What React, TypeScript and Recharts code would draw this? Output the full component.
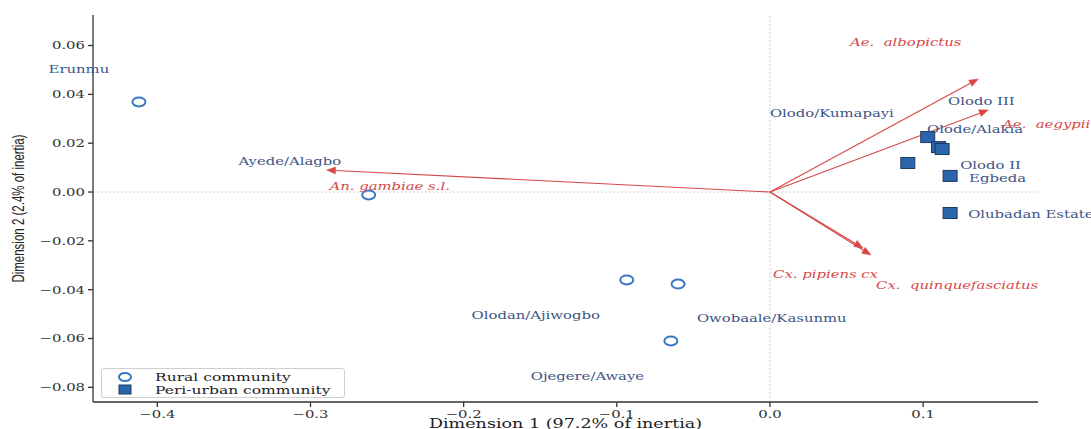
import React from "react";
import { ScatterChart, Scatter, XAxis, YAxis, ReferenceLine, Legend } from "recharts";

// the source figure is stretched sideways, so text gets a horizontal scale
const STRETCH = 1.35;
const SERIF = '"DejaVu Serif", serif';
const BLUE_TEXT = "#3d5585";
const RED = "#d64848";

const ruralPoints = [
  { x: -0.412, y: 0.0369 },
  { x: -0.262, y: -0.0012 },
  { x: -0.0935, y: -0.036 },
  { x: -0.06, y: -0.0377 },
  { x: -0.0647, y: -0.061 },
];

const periUrbanPoints = [
  { x: 0.103, y: 0.0225 },
  { x: 0.11, y: 0.0184 },
  { x: 0.1124, y: 0.0176 },
  { x: 0.09, y: 0.0119 },
  { x: 0.1176, y: 0.0066 },
  { x: 0.1176, y: -0.0086 },
];

const communityLabels = [
  { name: "Erunmu", x: -0.4314, y: 0.0504, anchor: "end" },
  { name: "Ayede/Alagbo", x: -0.347, y: 0.0127, anchor: "start" },
  { name: "Olodo/Kumapayi", x: 0.0, y: 0.0324, anchor: "start" },
  { name: "Olodo III", x: 0.1163, y: 0.0373, anchor: "start" },
  { name: "Olode/Alakia", x: 0.1026, y: 0.0258, anchor: "start" },
  { name: "Olodo II", x: 0.1242, y: 0.0111, anchor: "start" },
  { name: "Egbeda", x: 0.13, y: 0.0057, anchor: "start" },
  { name: "Olubadan Estate", x: 0.1294, y: -0.009, anchor: "start" },
  { name: "Olodan/Ajiwogbo", x: -0.1948, y: -0.0504, anchor: "start" },
  { name: "Owobaale/Kasunmu", x: -0.0477, y: -0.0516, anchor: "start" },
  { name: "Ojegere/Awaye", x: -0.1562, y: -0.0754, anchor: "start" },
];

const speciesArrows = [
  { name: "Ae. albopictus", x: 0.136, y: 0.0463 },
  { name: "Ae. aegypii", x: 0.1425, y: 0.0336 },
  { name: "An. gambiae s.l.", x: -0.2895, y: 0.009 },
  { name: "Cx. pipiens cx", x: 0.0608, y: -0.023 },
  { name: "Cx. quinquefasciatus", x: 0.066, y: -0.0258 },
];

const speciesLabels = [
  { name: "Ae.  albopictus", x: 0.0523, y: 0.0615 },
  { name: "Ae.  aegypii", x: 0.1516, y: 0.0279 },
  { name: "An. gambiae s.l.", x: -0.2876, y: 0.0025 },
  { name: "Cx. pipiens cx", x: 0.002, y: -0.0336 },
  { name: "Cx.  quinquefasciatus", x: 0.0693, y: -0.0381 },
];

const xTicks = [-0.4, -0.3, -0.2, -0.1, 0.0, 0.1];
const yTicks = [-0.08, -0.06, -0.04, -0.02, 0.0, 0.02, 0.04, 0.06];

const fmt = (v: number, d: number) => (v < -1e-9 ? "\u2212" : "") + Math.abs(v).toFixed(d);

function XTick({ x, y, payload }: any) {
  return (
    <text
      transform={`translate(${x},${y}) scale(${STRETCH},1)`}
      textAnchor="middle"
      dy="0.75em"
      fontFamily={SERIF}
      fontSize={11}
      fill="#333"
    >
      {fmt(payload.value, 1)}
    </text>
  );
}

function YTick({ x, y, payload }: any) {
  return (
    <text
      transform={`translate(${x},${y}) scale(${STRETCH},1)`}
      textAnchor="end"
      dy="0.35em"
      fontFamily={SERIF}
      fontSize={11}
      fill="#333"
    >
      {fmt(payload.value, 2)}
    </text>
  );
}

function RuralMarker({ cx, cy }: any) {
  return <ellipse cx={cx} cy={cy} rx={6.5} ry={4.5} fill="none" stroke="#3a78c2" strokeWidth={2} />;
}

function PeriMarker({ cx, cy }: any) {
  return <rect x={cx - 7} y={cy - 5.5} width={14} height={11} fill="#2b66ad" stroke="#1d3a5f" strokeWidth={1} />;
}

function CommunityLabel({ cx, cy, payload }: any) {
  return (
    <text
      transform={`translate(${cx},${cy}) scale(${STRETCH},1)`}
      textAnchor={payload.anchor}
      dominantBaseline="central"
      fontFamily={SERIF}
      fontSize={11}
      fill={BLUE_TEXT}
    >
      {payload.name}
    </text>
  );
}

function SpeciesLabel({ cx, cy, payload }: any) {
  return (
    <text
      transform={`translate(${cx},${cy}) scale(${STRETCH},1)`}
      dominantBaseline="central"
      fontFamily={SERIF}
      fontStyle="italic"
      fontSize={11}
      fill={RED}
      style={{ whiteSpace: "pre" }}
    >
      {payload.name}
    </text>
  );
}

function Arrow(props: any) {
  const { x1, y1, x2, y2 } = props;
  const a = Math.atan2(y2 - y1, x2 - x1);
  const len = 9;
  const w = 3.5;
  const bx = x2 - len * Math.cos(a);
  const by = y2 - len * Math.sin(a);
  const pts = [
    [x2, y2],
    [bx + w * Math.sin(a), by - w * Math.cos(a)],
    [bx - w * Math.sin(a), by + w * Math.cos(a)],
  ]
    .map((p) => p.join(","))
    .join(" ");
  return (
    <g>
      <line x1={x1} y1={y1} x2={bx} y2={by} stroke={RED} strokeWidth={1.1} />
      <polygon points={pts} fill={RED} stroke={RED} strokeWidth={0.5} />
    </g>
  );
}

function LegendBox() {
  return (
    <div
      style={{
        width: 242,
        height: 28,
        border: "1px solid #cfcfcf",
        borderRadius: 3,
        background: "#fff",
      }}
    >
      <svg width={242} height={28} style={{ display: "block" }}>
        <ellipse cx={23} cy={8} rx={6} ry={4} fill="none" stroke="#3a78c2" strokeWidth={2} />
        <rect x={17} y={16} width={12} height={9} fill="#2b66ad" stroke="#1d3a5f" strokeWidth={1} />
        {["Rural community", "Peri-urban community"].map((t, i) => (
          <text
            key={t}
            transform={`translate(53,${8 + i * 13}) scale(${STRETCH},1)`}
            dominantBaseline="central"
            fontFamily={SERIF}
            fontSize={11.5}
            fill="#222"
          >
            {t}
          </text>
        ))}
      </svg>
    </div>
  );
}

export default function App() {
  return (
    <div style={{ position: "absolute", left: 0, top: 0, background: "#fff" }}>
      <ScatterChart width={1091} height={429} margin={{ top: 15, right: 53, left: 0, bottom: 0 }}>
        <XAxis
          type="number"
          dataKey="x"
          domain={[-0.442, 0.175]}
          ticks={xTicks}
          tick={<XTick />}
          tickSize={5}
          tickMargin={3}
          height={27}
          stroke="#333"
          strokeWidth={1.3}
          label={(p: any) => {
            const vb = p.viewBox || { x: 93, y: 402, width: 945 };
            return (
              <text
                transform={`translate(${vb.x + vb.width / 2},${vb.y + 22}) scale(${STRETCH},1)`}
                textAnchor="middle"
                dominantBaseline="central"
                fontFamily={SERIF}
                fontSize={13}
                fill="#222"
              >
                Dimension 1 (97.2% of inertia)
              </text>
            );
          }}
        />
        <YAxis
          type="number"
          dataKey="y"
          domain={[-0.086, 0.0725]}
          ticks={yTicks}
          tick={<YTick />}
          tickSize={5}
          tickMargin={3}
          width={93}
          stroke="#333"
          strokeWidth={1.3}
          label={(p: any) => {
            const vb = p.viewBox || { x: 0, y: 15, height: 387 };
            return (
              <text
                transform={`translate(18,${vb.y + vb.height / 2}) scale(1.45,1) rotate(-90)`}
                textAnchor="middle"
                dominantBaseline="central"
                fontFamily='"Liberation Sans", sans-serif'
                fontSize={11.5}
                fill="#222"
              >
                Dimension 2 (2.4% of inertia)
              </text>
            );
          }}
        />
        <ReferenceLine x={0} stroke="#c8c8c8" strokeDasharray="2 2" strokeWidth={0.8} />
        <ReferenceLine y={0} stroke="#c8c8c8" strokeDasharray="2 2" strokeWidth={0.8} />
        {speciesArrows.map((s) => (
          <ReferenceLine
            key={s.name}
            segment={[
              { x: 0, y: 0 },
              { x: s.x, y: s.y },
            ]}
            shape={Arrow}
          />
        ))}
        <Legend
          layout="horizontal"
          verticalAlign="middle"
          align="center"
          content={() => <LegendBox />}
          wrapperStyle={{ left: 101, top: 368, width: 244 }}
        />
        <Scatter name="Rural community" data={ruralPoints} shape={RuralMarker} isAnimationActive={false} />
        <Scatter name="Peri-urban community" data={periUrbanPoints} shape={PeriMarker} isAnimationActive={false} />
        <Scatter data={communityLabels} shape={CommunityLabel} legendType="none" isAnimationActive={false} />
        <Scatter data={speciesLabels} shape={SpeciesLabel} legendType="none" isAnimationActive={false} />
      </ScatterChart>
    </div>
  );
}
